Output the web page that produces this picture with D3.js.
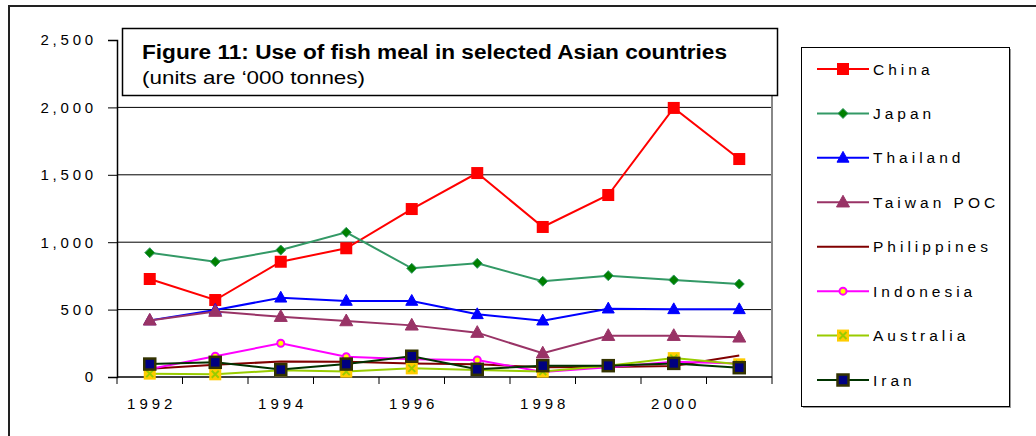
<!DOCTYPE html>
<html>
<head>
<meta charset="utf-8">
<script src="https://cdn.jsdelivr.net/npm/d3@7"></script>
<style>
  html, body { margin: 0; padding: 0; background: #fff; }
  svg { display: block; font-family: "Liberation Sans", Arial, sans-serif; }
</style>
</head>
<body>
<svg id="chart" width="1036" height="436"></svg>
<script>
const years = [1992, 1993, 1994, 1995, 1996, 1997, 1998, 1999, 2000, 2001];
const yearLabels = [1992, 1994, 1996, 1998, 2000];
const yTicks = [0, 500, 1000, 1500, 2000, 2500];

const china       = [727, 571, 855, 955, 1246, 1513, 1113, 1350, 1996, 1617];
const japan       = [922, 855, 942, 1073, 806, 843, 710, 752, 720, 690];
const thailand    = [420, 497, 588, 564, 564, 465, 418, 507, 502, 502];
const taiwan      = [420, 485, 447, 415, 383, 329, 176, 306, 306, 294];
const philippines = [62, 90, 115, 114, 101, 94, 72, 74, 82, 160];
const indonesia   = [59, 154, 250, 151, 131, 126, 38, 72, 114, 101];
const australia   = [25, 20, 50, 40, 64, 52, 40, 84, 140, 94];
const iran        = [96, 109, 55, 96, 154, 57, 84, 84, 101, 69];

const seriesNames = ["China", "Japan", "Thailand", "Taiwan POC", "Philippines", "Indonesia", "Australia", "Iran"];

const styles = {
  "China":       {line: "#FF0000", marker: "square",   fill: "#FF0000", stroke: "#FF0000", size: 12},
  "Japan":       {line: "#339966", marker: "diamond",  fill: "#008000", stroke: "#339966", size: 10},
  "Thailand":    {line: "#0000FF", marker: "triangle", fill: "#0000FF", stroke: "#0000FF", size: 12},
  "Taiwan POC":  {line: "#993366", marker: "triangle", fill: "#993366", stroke: "#993366", size: 13},
  "Philippines": {line: "#800000", marker: "none"},
  "Indonesia":   {line: "#FF00FF", marker: "circle",   fill: "#FFFF00", stroke: "#FF00FF", size: 8},
  "Australia":   {line: "#99CC00", marker: "xsquare",  fill: "#FFCC00", stroke: "#99CC00", size: 12},
  "Iran":        {line: "#003300", marker: "square",   fill: "#000080", stroke: "#333300", size: 11}
};

const data = [china, japan, thailand, taiwan, philippines, indonesia, australia, iran]
  .map((vals, i) => ({name: seriesNames[i], values: vals}));

const svg = d3.select("#chart");

// outer frame
svg.append("rect").attr("x", 9).attr("y", 6).attr("width", 1040).attr("height", 440)
  .attr("fill", "none").attr("stroke", "#222").attr("stroke-width", 2);

const plot = {left: 117, right: 772, top: 40, bottom: 377};
const x = d3.scaleBand().domain(years).range([plot.left, plot.right]).paddingInner(0).paddingOuter(0);
const y = d3.scaleLinear().domain([0, 2500]).range([plot.bottom, plot.top]);
const cx = d => x(d) + x.bandwidth() / 2;

// gridlines
svg.append("g").selectAll("line").data(yTicks.filter(t => t > 0 && t < 2500)).join("line")
  .attr("x1", plot.left).attr("x2", plot.right)
  .attr("y1", d => y(d)).attr("y2", d => y(d))
  .attr("stroke", "#000").attr("stroke-width", 1);

// plot area border right (grey)
svg.append("line").attr("x1", plot.right).attr("x2", plot.right)
  .attr("y1", plot.top).attr("y2", plot.bottom)
  .attr("stroke", "#888").attr("stroke-width", 2);

// y axis
const yAxis = d3.axisLeft(y).tickValues(yTicks).tickSize(9).tickFormat(d3.format(","));
const gy = svg.append("g").attr("transform", `translate(${plot.left},0)`).call(yAxis);
gy.select(".domain").attr("stroke", "#000").attr("stroke-width", 1.5);
gy.selectAll(".tick line").attr("stroke", "#000");
gy.selectAll(".tick text").attr("x", -20).attr("font-size", 15)
  .attr("font-family", "Liberation Sans, Arial, sans-serif")
  .attr("letter-spacing", "3.8px").attr("fill", "#000");

// x axis
const gx = svg.append("g");
gx.append("line").attr("x1", plot.left).attr("x2", plot.right)
  .attr("y1", plot.bottom).attr("y2", plot.bottom).attr("stroke", "#000").attr("stroke-width", 1.5);
const boundaries = years.map(d => x(d)).concat([plot.right]);
gx.selectAll("line.tk").data(boundaries).join("line").attr("class", "tk")
  .attr("x1", d => d).attr("x2", d => d).attr("y1", plot.bottom).attr("y2", plot.bottom + 7)
  .attr("stroke", "#000").attr("stroke-width", 1);
gx.selectAll("text").data(yearLabels).join("text")
  .attr("x", d => cx(d) + 2).attr("y", 409)
  .attr("text-anchor", "middle").attr("font-size", 15).attr("letter-spacing", "4px")
  .attr("fill", "#000").text(d => d);

// marker drawing
function drawMarker(g, st, px, py) {
  const s = st.size;
  if (st.marker === "square") {
    g.append("rect").attr("x", px - s / 2).attr("y", py - s / 2).attr("width", s).attr("height", s)
      .attr("fill", st.fill).attr("stroke", st.stroke).attr("stroke-width", st.stroke === st.fill ? 0 : 2.5);
  } else if (st.marker === "diamond") {
    g.append("path").attr("d", `M${px},${py - s / 2}L${px + s / 2},${py}L${px},${py + s / 2}L${px - s / 2},${py}Z`)
      .attr("fill", st.fill).attr("stroke", st.stroke).attr("stroke-width", 1);
  } else if (st.marker === "triangle") {
    const h = s * 0.9;
    g.append("path").attr("d", `M${px},${py - h * 0.6}L${px + s / 2},${py + h * 0.4}L${px - s / 2},${py + h * 0.4}Z`)
      .attr("fill", st.fill).attr("stroke", st.stroke).attr("stroke-width", 1);
  } else if (st.marker === "circle") {
    g.append("circle").attr("cx", px).attr("cy", py).attr("r", s / 2 - 0.5)
      .attr("fill", st.fill).attr("stroke", st.stroke).attr("stroke-width", 2);
  } else if (st.marker === "xsquare") {
    g.append("rect").attr("x", px - s / 2).attr("y", py - s / 2).attr("width", s).attr("height", s)
      .attr("fill", st.fill);
    const k = s / 2 - 2.5;
    g.append("path").attr("d", `M${px - k},${py - k}L${px + k},${py + k}M${px + k},${py - k}L${px - k},${py + k}`)
      .attr("stroke", st.stroke).attr("stroke-width", 2);
  }
}

const line = d3.line().x((d, i) => cx(years[i])).y(d => y(d));

data.forEach(s => {
  const st = styles[s.name];
  const g = svg.append("g");
  g.append("path").attr("d", line(s.values)).attr("fill", "none")
    .attr("stroke", st.line).attr("stroke-width", 2);
  if (st.marker !== "none") {
    s.values.forEach((v, i) => drawMarker(g, st, cx(years[i]), y(v)));
  }
});

// title box
const tb = svg.append("g");
tb.append("rect").attr("x", 122.5).attr("y", 28.5).attr("width", 655).attr("height", 67)
  .attr("fill", "#fff").attr("stroke", "#000").attr("stroke-width", 1.5);
tb.append("text").attr("x", 142).attr("y", 59).attr("font-size", 20).attr("font-weight", "bold")
  .attr("textLength", 585).attr("lengthAdjust", "spacingAndGlyphs")
  .attr("fill", "#000").text("Figure 11: Use of fish meal in selected Asian countries");
tb.append("text").attr("x", 142).attr("y", 84).attr("font-size", 19)
  .attr("textLength", 223).attr("lengthAdjust", "spacingAndGlyphs")
  .attr("fill", "#000").text("(units are \u2018000 tonnes)");

// legend
const lg = svg.append("g");
lg.append("rect").attr("x", 803).attr("y", 49).attr("width", 208).attr("height", 359).attr("fill", "#999");
lg.append("rect").attr("x", 801.5).attr("y", 47.5).attr("width", 208).attr("height", 359)
  .attr("fill", "#fff").attr("stroke", "#000").attr("stroke-width", 1);
const legY = d3.scalePoint().domain(seriesNames).range([69, 380]);
seriesNames.forEach(n => {
  const st = styles[n];
  const ly = legY(n);
  lg.append("line").attr("x1", 817).attr("x2", 869).attr("y1", ly).attr("y2", ly)
    .attr("stroke", st.line).attr("stroke-width", 2);
  if (st.marker !== "none") drawMarker(lg, st, 843, ly);
  lg.append("text").attr("x", 873).attr("y", ly + 5.5).attr("font-size", 15.5)
    .attr("letter-spacing", "4px").attr("fill", "#000").text(n);
});
</script>
</body>
</html>
